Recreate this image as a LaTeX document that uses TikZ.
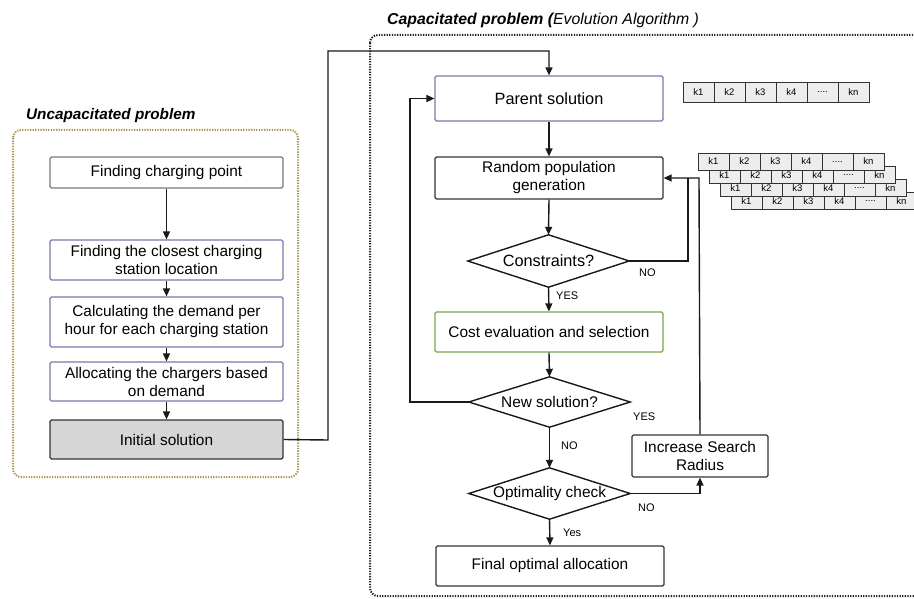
\documentclass[tikz,border=0pt]{standalone}
\usepackage{fontspec}
\setmainfont{Liberation Sans}
\usetikzlibrary{arrows.meta}
\definecolor{edge}{HTML}{333333}
\definecolor{lgray}{HTML}{7A7A7A}
\definecolor{purp}{HTML}{8474AE}
\definecolor{grn}{HTML}{7BA450}
\definecolor{olive}{HTML}{A89858}
\definecolor{initfill}{HTML}{D6D6D6}
\definecolor{cellfill}{HTML}{EDEDED}
\newcommand\celltxt[1]{\ifcase#1 k1\or k2\or k3\or k4\or ....\or kn\fi}
\begin{document}
\begin{tikzpicture}[x=1pt,y=-1pt,
  box/.style={draw=edge, line width=1.2pt, rounded corners=1.5pt, fill=white,
    align=center, inner sep=0pt, font=\fontsize{15.4}{18}\selectfont},
  lbox/.style={box, minimum width=233pt},
  rbox/.style={box, minimum width=228pt},
  dia/.style={inner sep=0pt, minimum width=161pt, font=\fontsize{15.4}{18}\selectfont},
  arr/.style={-{Triangle[length=8pt,width=7pt]}, line width=1.4pt, draw=black!90},
  conn/.style={line width=1.4pt, draw=black!90},
  lab/.style={font=\fontsize{11}{13}\selectfont, inner sep=0pt},
  cell/.style={draw=edge, line width=0.9pt, fill=cellfill, minimum width=31pt,
    inner sep=0pt, font=\fontsize{9.5}{10}\selectfont},
  frame/.style={line width=2pt, dash pattern=on 1.3pt off 1.3pt, rounded corners=8pt}
]
\clip (0,0) rectangle (914,599);
\fill[white] (0,0) rectangle (914,599);

% frames
\draw[frame, draw=olive] (13,130) rectangle (298,477);
\draw[frame, draw=black!85] (370,35) rectangle (940,596);

% titles
\node[anchor=west, inner sep=0pt, font=\fontsize{15.3}{18}\selectfont\bfseries\itshape] (t1) at (26,116) {Uncapacitated problem};
\node[anchor=west, inner sep=0pt, font=\fontsize{15.8}{18}\selectfont\itshape] (t2) at (387,20) {\textbf{Capacitated problem (}Evolution Algorithm )};

% left column
\node[lbox, draw=lgray, minimum height=31pt] (b1) at (166.5,172.5) {Finding charging point};
\node[lbox, draw=purp, minimum height=40pt] (b2) at (166.5,260) {Finding the closest charging\\station location};
\node[lbox, draw=purp, minimum height=50pt] (b3) at (166.5,322) {Calculating the demand per\\hour for each charging station};
\node[lbox, draw=purp, minimum height=39pt] (b4) at (166.5,381.5) {Allocating the chargers based\\on demand};
\node[lbox, fill=initfill, draw=edge, minimum height=39pt] (b5) at (166.5,439.5) {Initial solution};

\draw[arr] (b1) -- (b2);
\draw[arr] (b2) -- (b3);
\draw[arr] (b3) -- (b4);
\draw[arr] (b4) -- (b5);

% right column
\node[rbox, draw=purp, minimum height=45pt, font=\fontsize{16.3}{18}\selectfont] (par) at (549,98.5) {Parent solution};
\node[rbox, minimum height=42pt] (rnd) at (549,178) {Random population\\generation};
\node[dia, minimum height=52pt, font=\fontsize{16.3}{18}\selectfont] (con) at (548.5,261) {Constraints?};
\draw[line width=1.4pt, draw=black!90] (con.west) -- (con.north) -- (con.east) -- (con.south) -- cycle;
\node[rbox, draw=grn, minimum height=40pt] (cost) at (549,332) {Cost evaluation and selection};
\node[dia, minimum height=50pt] (new) at (549.5,402) {New solution?};
\draw[line width=1.4pt, draw=black!90] (new.west) -- (new.north) -- (new.east) -- (new.south) -- cycle;
\node[dia, minimum height=51pt] (opt) at (549.5,493.5) {Optimality check};
\draw[line width=1.4pt, draw=black!90] (opt.west) -- (opt.north) -- (opt.east) -- (opt.south) -- cycle;
\node[rbox, minimum height=40pt] (fin) at (550,566) {Final optimal allocation};
\node[box, minimum width=136pt, minimum height=42pt] (inc) at (700,456) {Increase Search\\Radius};

% connectors
\coordinate (c1) at (328,440);
\coordinate (c2) at (328,51);
\draw[arr] (b5.east) -- (c1) -- (c2) -| (par.north);
\draw[arr] (par) -- (rnd);
\draw[arr] (rnd.south) -- (con.north);
\draw[arr] (con.south) -- (cost.north);
\draw[arr] (cost.south) -- (new.north);
\draw[arr] (new.south) -- (opt.north);
\draw[arr] (opt.south) -- (fin.north);
\coordinate (lp) at (410,402);
\draw[arr] (new.west) -- (lp) |- (par.west);
\draw[arr] (opt.east) -| (inc.south);
\coordinate (up) at (699,178);
\draw[arr] (inc.north) -- (up) -- (rnd.east);
\coordinate (cn) at (688,178);
\draw[conn] (con.east) -| (cn);

% labels
\node[lab, anchor=west] (l1) at (639,273) {NO};
\node[lab, anchor=west] (l2) at (556,296) {YES};
\node[lab, anchor=west] (l3) at (633,417) {YES};
\node[lab, anchor=west] (l4) at (561,446) {NO};
\node[lab, anchor=west] (l5) at (638,508) {NO};
\node[lab, anchor=west] (l6) at (563,533) {Yes};

% arrays
\foreach \i in {0,1,2,3,4,5}{
  \node[cell, minimum height=20pt] (a\i) at ({683+31*\i+15.5},92) {\celltxt{\i}};
}
\foreach \r in {4,3,2,1}{
  \foreach \i in {0,1,2,3,4,5}{
    \node[cell, minimum height=17pt] (s\r\i) at ({698+11*(\r-1)+31*\i+15.5},{153+13.3*(\r-1)+8.5}) {\celltxt{\i}};
  }
}
\end{tikzpicture}
\end{document}
